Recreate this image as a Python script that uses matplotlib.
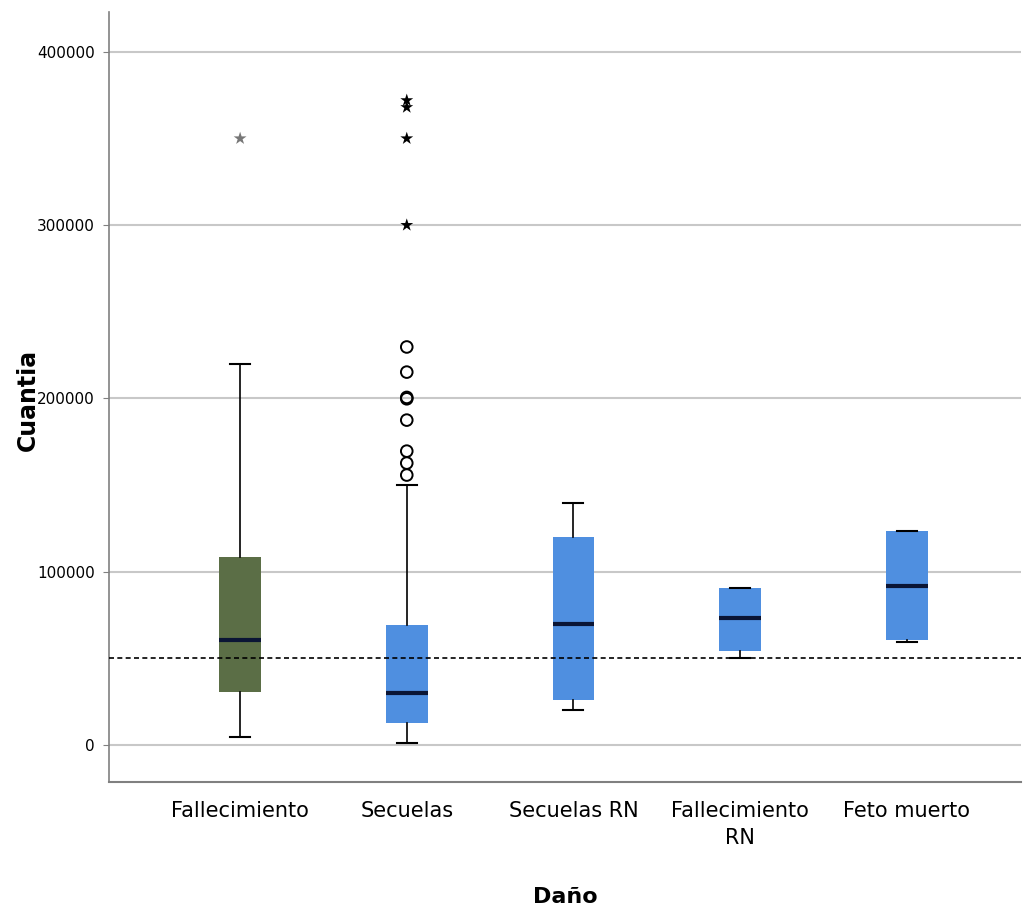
import matplotlib.pyplot as plt

# Box statistics
categorias = ["Fallecimiento", "Secuelas", "Secuelas RN", "Fallecimiento\nRN", "Feto muerto"]
bigote_inf = [4800, 1000, 20200, 50000, 59500]
q1 = [30800, 12500, 26000, 54400, 60500]
mediana = [60600, 30200, 69800, 73600, 91700]
q3 = [108500, 69200, 120100, 90400, 123500]
bigote_sup = [220000, 150000, 139800, 90400, 123500]
colores = ["#5b6e46", "#4f8fe0", "#4f8fe0", "#4f8fe0", "#4f8fe0"]

# Outliers (circles) and extreme values (stars)
atipicos_x = [2, 2, 2, 2, 2, 2, 2, 2]
atipicos_y = [229700, 215200, 200600, 199800, 187500, 169600, 162700, 155800]
extremos_x = [1, 2, 2, 2, 2]
extremos_y = [350000, 372000, 368000, 350000, 300000]
extremos_color = ["#777777", "black", "black", "black", "black"]

referencia = 50000

plt.rcParams['font.family'] = ['Liberation Sans Narrow', 'DejaVu Sans']

fig = plt.figure(figsize=(10.26, 9.13), dpi=100)
ax = fig.add_axes([0.1062, 0.1435, 0.8888, 0.8434])

stats = []
for i, nombre in enumerate(categorias):
    stats.append({"label": nombre, "whislo": bigote_inf[i], "q1": q1[i], "med": mediana[i],
                  "q3": q3[i], "whishi": bigote_sup[i], "fliers": []})

bp = ax.bxp(stats, positions=range(1, 6), widths=0.25, patch_artist=True, showfliers=False,
            boxprops=dict(linewidth=0),
            medianprops=dict(color="#0a1535", linewidth=3),
            whiskerprops=dict(color="black", linewidth=1.2),
            capprops=dict(color="black", linewidth=1.5), capwidths=0.12)
for caja, c in zip(bp["boxes"], colores):
    caja.set_facecolor(c)
    caja.set_zorder(2)
for m in bp["medians"]:
    m.set_zorder(4)

ax.axhline(referencia, color="black", linestyle=(0, (3, 2)), linewidth=1.2, zorder=3)

ax.scatter(atipicos_x, atipicos_y, s=70, facecolors="none", edgecolors="black", linewidths=1.4, zorder=5)
ax.scatter(extremos_x, extremos_y, s=95, marker="*", c=extremos_color, linewidths=0, zorder=5)

ax.set_xlim(0.213, 5.685)
ax.set_ylim(-21300, 423000)
ax.set_yticks([0, 100000, 200000, 300000, 400000])
ax.set_yticklabels(["0", "100000", "200000", "300000", "400000"])
ax.yaxis.grid(True, color="#c8c8c8", linewidth=1.5)
ax.set_axisbelow(True)

for s in ["top", "right"]:
    ax.spines[s].set_visible(False)
ax.spines["left"].set_color("#808080")
ax.spines["bottom"].set_color("#808080")
ax.spines["left"].set_linewidth(1.2)
ax.spines["bottom"].set_linewidth(1.5)

ax.tick_params(axis="y", length=4, color="#808080", labelsize=11, pad=6)
ax.tick_params(axis="x", length=0, labelsize=15, pad=14)
for t in ax.get_xticklabels():
    t.set_linespacing(1.4)

fig.text(0.027, 0.562, "Cuantia", rotation=90, ha="center", va="center",
         fontsize=17, fontweight="bold")
ax.set_xlabel("Daño", fontsize=16, fontweight="bold", labelpad=28)

fig.savefig("out.png", dpi=100)
